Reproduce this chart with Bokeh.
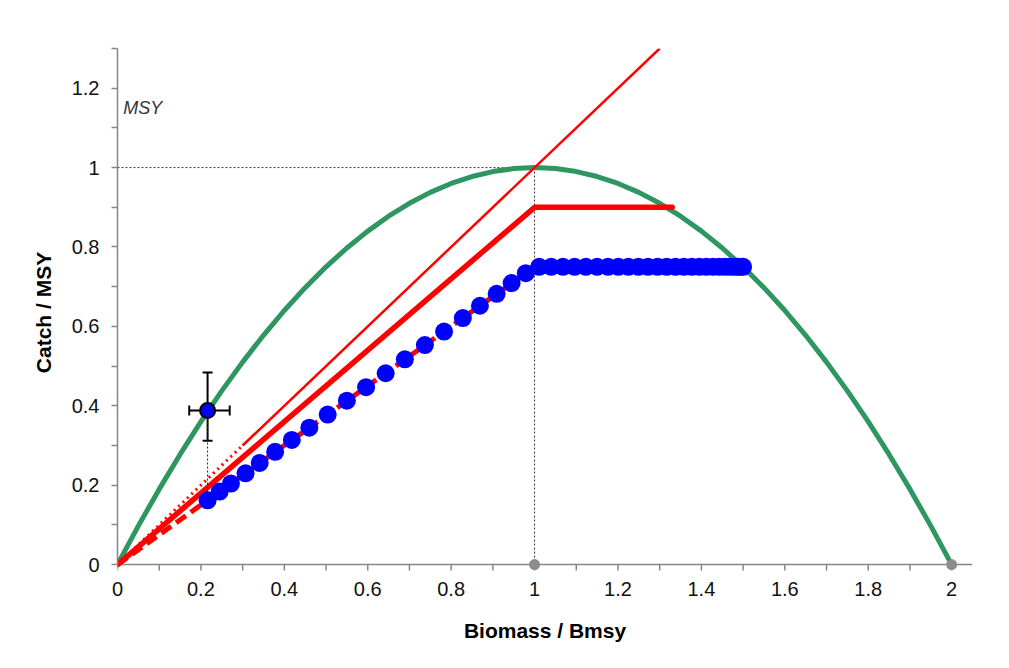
from bokeh.plotting import figure
from bokeh.models import (FixedTicker, Whisker, TeeHead, ColumnDataSource,
                          Label, Range1d)
from bokeh.embed import file_html
from bokeh.resources import INLINE

# ---- data ----
# surplus production curve (Catch/MSY vs Biomass/Bmsy)
curve_x = [0.0, 0.05, 0.1, 0.15, 0.2, 0.25, 0.3, 0.35, 0.4, 0.45, 0.5, 0.55, 0.6,
           0.65, 0.7, 0.75, 0.8, 0.85, 0.9, 0.95, 1.0, 1.05, 1.1, 1.15, 1.2, 1.25,
           1.3, 1.35, 1.4, 1.45, 1.5, 1.55, 1.6, 1.65, 1.7, 1.75, 1.8, 1.85, 1.9,
           1.95, 2.0]
curve_y = [0.0, 0.0975, 0.19, 0.2775, 0.36, 0.4375, 0.51, 0.5775, 0.64, 0.6975,
           0.75, 0.7975, 0.84, 0.8775, 0.91, 0.9375, 0.96, 0.9775, 0.99, 0.9975,
           1.0, 0.9975, 0.99, 0.9775, 0.96, 0.9375, 0.91, 0.8775, 0.84, 0.7975,
           0.75, 0.6975, 0.64, 0.5775, 0.51, 0.4375, 0.36, 0.2775, 0.19, 0.0975,
           0.0]

# thin red line (F = Fmsy) and its dotted extension
thin_x = [0.3, 1.3]
thin_y = [0.3, 1.3]
dotted_x = [0.0, 0.3]
dotted_y = [0.0, 0.3]

# thick red harvest control rule
hcr_x = [0.0, 1.0, 1.33]
hcr_y = [0.0, 0.9, 0.9]

# dashed red rule under the trajectory
dash_x = [0.0, 1.0, 1.5]
dash_y = [0.0, 0.75, 0.75]

# projected trajectory (blue points)
traj_x = [0.216, 0.245, 0.272, 0.307, 0.341, 0.378, 0.418, 0.460, 0.504, 0.550,
          0.596, 0.643, 0.689, 0.737, 0.783, 0.828, 0.869, 0.909, 0.945, 0.979,
          1.011, 1.040, 1.068, 1.096, 1.123, 1.150, 1.176, 1.201, 1.225, 1.249,
          1.272, 1.295, 1.317, 1.338, 1.358, 1.377, 1.395, 1.412, 1.428, 1.443,
          1.456, 1.468, 1.478, 1.487, 1.494, 1.500]
traj_y = [0.162, 0.184, 0.204, 0.230, 0.256, 0.284, 0.314, 0.345, 0.378, 0.413,
          0.447, 0.482, 0.517, 0.553, 0.587, 0.621, 0.652, 0.682, 0.709, 0.734,
          0.75, 0.75, 0.75, 0.75, 0.75, 0.75, 0.75, 0.75, 0.75, 0.75,
          0.75, 0.75, 0.75, 0.75, 0.75, 0.75, 0.75, 0.75, 0.75, 0.75,
          0.75, 0.75, 0.75, 0.75, 0.75, 0.75]

# current estimate with error bars
est_x = [0.216]
est_y = [0.388]
est_x_lo = [0.172]
est_x_hi = [0.269]
est_y_lo = [0.312]
est_y_hi = [0.484]

# reference points on the axis
ref_x = [1.0, 2.0]
ref_y = [0.0, 0.0]

x_ticks = [0, 0.2, 0.4, 0.6, 0.8, 1, 1.2, 1.4, 1.6, 1.8, 2]
x_minor = [0.1, 0.3, 0.5, 0.7, 0.9, 1.1, 1.3, 1.5, 1.7, 1.9]
x_labels = ["0", "0.2", "0.4", "0.6", "0.8", "1", "1.2", "1.4", "1.6", "1.8", "2"]
y_ticks = [0, 0.2, 0.4, 0.6, 0.8, 1, 1.2]
y_minor = [0.1, 0.3, 0.5, 0.7, 0.9, 1.1, 1.3]
y_labels = ["0", "0.2", "0.4", "0.6", "0.8", "1", "1.2"]

# ---- figure ----
FONT = "Liberation Sans"
AXIS_GREY = "#868686"
X_END = 2.05
Y_START = -0.03          # a little room below the x axis so the markers on it are whole
TICK_LEN = 0.015         # tick length in data units (about 6 px)

p = figure(width=1009, height=668, x_range=Range1d(0, X_END),
           y_range=Range1d(Y_START, 1.3),
           output_backend="svg", toolbar_location=None,
           min_border_left=117, min_border_right=37, min_border_top=48,
           min_border_bottom=92)
p.grid.visible = False
p.outline_line_color = None
p.background_fill_color = "white"
p.border_fill_color = "white"

for ax, ticks, minor, labels in ((p.xaxis, x_ticks, x_minor, x_labels),
                                 (p.yaxis, y_ticks, y_minor, y_labels)):
    ax.ticker = FixedTicker(ticks=ticks, minor_ticks=minor)
    ax.major_label_overrides = {t: l for t, l in zip(ticks, labels)}
    ax.axis_line_color = AXIS_GREY
    ax.axis_line_width = 1.5
    ax.major_tick_line_color = AXIS_GREY
    ax.minor_tick_line_color = AXIS_GREY
    ax.major_tick_line_width = 1.5
    ax.minor_tick_line_width = 1.5
    ax.major_tick_in = 0
    ax.major_tick_out = 6
    ax.minor_tick_in = 0
    ax.minor_tick_out = 6
    ax.major_label_text_font = FONT
    ax.major_label_text_font_size = "20px"
    ax.major_label_text_color = "#111111"
    ax.axis_label_text_font = FONT
    ax.axis_label_text_font_size = "21px"
    ax.axis_label_text_font_style = "bold"
    ax.axis_label_text_color = "#000000"

p.yaxis.bounds = (0, 1.3)
# x axis: labels from the axis, line and ticks drawn at y = 0 below
p.xaxis.axis_line_color = None
p.xaxis.major_tick_line_color = None
p.xaxis.minor_tick_line_color = None
p.xaxis.major_tick_out = 0
p.xaxis.minor_tick_out = 0
p.xaxis.axis_label = "Biomass / Bmsy"
p.yaxis.axis_label = "Catch / MSY"
p.xaxis.major_label_standoff = 5
p.yaxis.major_label_standoff = 12
p.xaxis.axis_label_standoff = 20
p.yaxis.axis_label_standoff = 14

all_xt = x_ticks + x_minor
p.segment(x0=all_xt, y0=[0] * len(all_xt), x1=all_xt, y1=[-TICK_LEN] * len(all_xt),
          line_color=AXIS_GREY, line_width=1.5)
p.line([0, X_END], [0, 0], line_color=AXIS_GREY, line_width=1.5)

# reference dotted lines at MSY
p.line([curve_x[0], ref_x[0]], [curve_y[20], curve_y[20]], line_color="#333333",
       line_width=1, line_dash="2 2")
p.line([ref_x[0], ref_x[0]], [curve_y[20], ref_y[0]], line_color="#333333",
       line_width=1, line_dash="2 2")

# production curve
p.line(curve_x, curve_y, line_color="#2e9660", line_width=5)

# red lines
p.line(dotted_x, dotted_y, line_color="#ff0000", line_width=3, line_dash="2 4")
p.line(thin_x, thin_y, line_color="#ff0000", line_width=2.5)
p.line(hcr_x, hcr_y, line_color="#ff0000", line_width=5.5, line_cap="round")
p.line(dash_x, dash_y, line_color="#ff0000", line_width=5, line_dash="12 6")

# trajectory
p.scatter(traj_x, traj_y, size=18, fill_color="#0000ff", line_color="#0000ff",
          line_width=0)

# estimate with error bars
p.line([est_x[0], traj_x[0]], [est_y[0], traj_y[0]], line_color="#0000ff",
       line_width=1, line_dash="2 2")
err = ColumnDataSource(dict(x=est_x, y=est_y, xlo=est_x_lo, xhi=est_x_hi,
                            ylo=est_y_lo, yhi=est_y_hi))
p.add_layout(Whisker(source=err, base="x", lower="ylo", upper="yhi",
                     dimension="height", line_width=2, line_color="black",
                     lower_head=TeeHead(size=10, line_width=2, line_color="black"),
                     upper_head=TeeHead(size=10, line_width=2, line_color="black")))
p.add_layout(Whisker(source=err, base="y", lower="xlo", upper="xhi",
                     dimension="width", line_width=2, line_color="black",
                     lower_head=TeeHead(size=10, line_width=2, line_color="black"),
                     upper_head=TeeHead(size=10, line_width=2, line_color="black")))
p.scatter(est_x, est_y, size=15, fill_color="#0000ff", line_color="black",
          line_width=2, level="overlay")

# reference points on the x axis
p.scatter(ref_x, ref_y, size=11, fill_color="#8c8c8c", line_color=None,
          level="overlay")

p.add_layout(Label(x=0.014, y=1.151, text="MSY", text_font=FONT,
                   text_font_style="italic", text_font_size="18px",
                   text_color="#333333", text_baseline="middle"))

open("out.html", "w").write(file_html(p, INLINE))
